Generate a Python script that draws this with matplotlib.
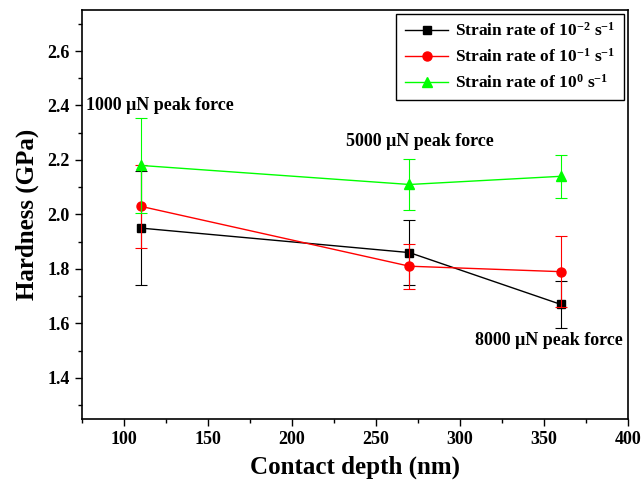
import matplotlib
matplotlib.use('Agg')
import matplotlib.pyplot as plt
from matplotlib.ticker import MultipleLocator

plt.rcParams['font.family'] = 'Liberation Serif'
plt.rcParams['font.weight'] = 'bold'
plt.rcParams['mathtext.fontset'] = 'custom'
plt.rcParams['mathtext.rm'] = 'Liberation Serif:bold'
plt.rcParams['mathtext.it'] = 'Liberation Serif:bold:italic'
plt.rcParams['mathtext.bf'] = 'Liberation Serif:bold'

# contact depth (nm) for the three peak loads
depth = [110, 270, 360]

# hardness (GPa) and error for each strain rate
h_1e2 = [1.95, 1.86, 1.67]
e_1e2 = [0.21, 0.118, 0.087]
h_1e1 = [2.03, 1.81, 1.79]
e_1e1 = [0.153, 0.083, 0.13]
h_1e0 = [2.18, 2.11, 2.14]
e_1e0 = [0.175, 0.095, 0.078]

labels = [r'Strain rate of 10$^{\mathregular{-2}}$ s$^{\mathregular{-1}}$',
          r'Strain rate of 10$^{\mathregular{-1}}$ s$^{\mathregular{-1}}$',
          r'Strain rate of 10$^{\mathregular{0}}$ s$^{\mathregular{-1}}$']

fig = plt.figure(figsize=(6.44, 4.83), dpi=100)
ax = fig.add_axes([0.127, 0.133, 0.848, 0.846])

series = [(h_1e2, e_1e2, 'black', 's', 5.5),
          (h_1e1, e_1e1, '#ff0000', 'o', 6.5),
          (h_1e0, e_1e0, '#00ff00', '^', 6.5)]
for (h, e, c, m, ms), lab in zip(series, labels):
    # error bars drawn separately so the legend shows only line + marker
    ax.errorbar(depth, h, yerr=e, fmt='none', ecolor=c, elinewidth=0.8,
                capsize=4, capthick=0.8)
    ax.plot(depth, h, color=c, marker=m, ms=ms, lw=1, label=lab)

ax.text(77.4, 2.40, u'1000 \u03bcN peak force', fontsize=13, fontweight='bold', va='center')
ax.text(232, 2.266, u'5000 \u03bcN peak force', fontsize=13, fontweight='bold', va='center')
ax.text(309, 1.539, u'8000 \u03bcN peak force', fontsize=13, fontweight='bold', va='center')

ax.set_xlim(75, 400)
ax.set_ylim(1.25, 2.75)
ax.xaxis.set_major_locator(MultipleLocator(50))
ax.xaxis.set_minor_locator(MultipleLocator(25))
ax.yaxis.set_major_locator(MultipleLocator(0.2))
ax.yaxis.set_minor_locator(MultipleLocator(0.1))
ax.tick_params(which='major', direction='out', length=5, width=1, labelsize=13)
ax.tick_params(which='minor', direction='out', length=3, width=1)
ax.tick_params(top=False, right=False, which='both')
for lab in ax.get_xticklabels() + ax.get_yticklabels():
    lab.set_fontweight('bold')
for s in ax.spines.values():
    s.set_linewidth(1.2)

ax.set_xlabel('Contact depth (nm)', fontsize=18, fontweight='bold', labelpad=6)
ax.set_ylabel('Hardness (GPa)', fontsize=18, fontweight='bold', labelpad=6)

leg = ax.legend(loc='upper right', fontsize=12.5, numpoints=1, handlelength=2.5,
                fancybox=False, edgecolor='black', framealpha=1,
                borderaxespad=0.2, labelspacing=0.45, handletextpad=0.4,
                borderpad=0.5)
leg.get_frame().set_linewidth(1.0)

fig.savefig('out.png', dpi=100)
